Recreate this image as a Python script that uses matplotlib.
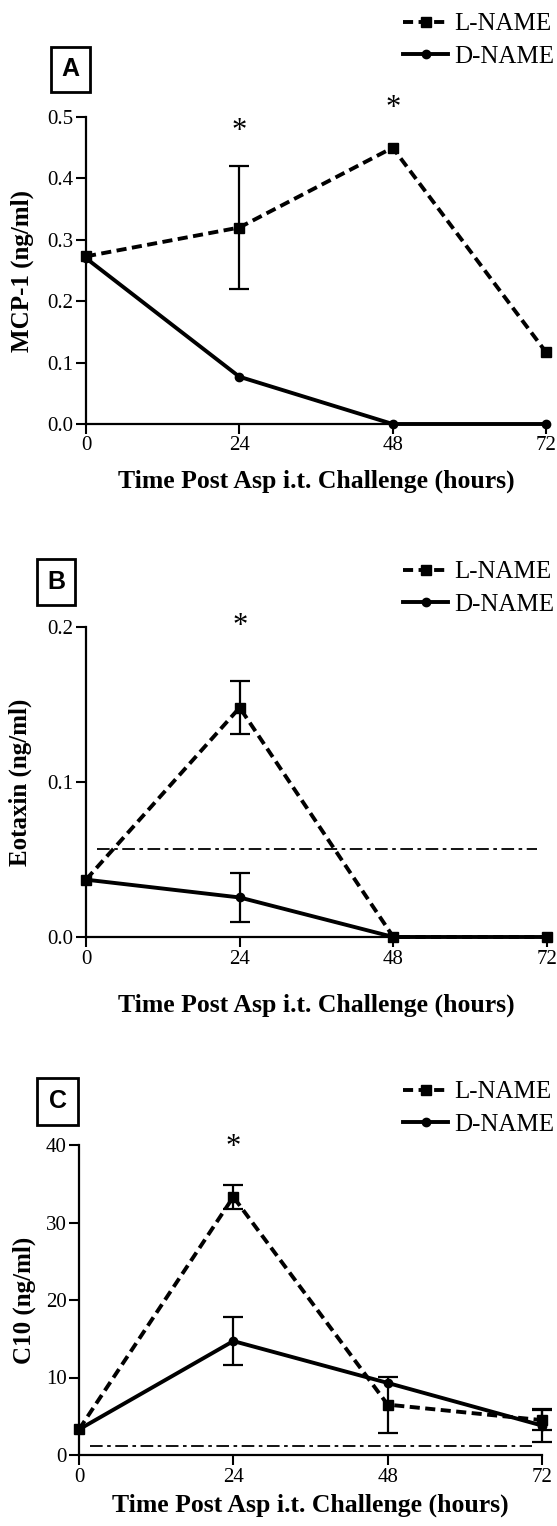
import matplotlib.pyplot as plt
import matplotlib.patches as patches
import numpy as np

plt.rcParams['font.family'] = 'Liberation Serif'

W, H = 557, 1526

hours = [0, 24, 48, 72]

# panel A - MCP-1
mcp_l = [0.273, 0.32, 0.45, 0.117]
mcp_l_err = [0, 0.10, 0, 0]
mcp_d = [0.27, 0.077, 0.0, 0.0]
mcp_d_err = [0, 0, 0, 0]

# panel B - eotaxin
eot_l = [0.037, 0.148, 0.0, 0.0]
eot_l_err = [0, 0.017, 0, 0]
eot_d = [0.037, 0.0255, 0.0, 0.0]
eot_d_err = [0, 0.0155, 0, 0]
eot_limit = 0.057

# panel C - C10
c10_l = [3.3, 33.3, 6.5, 4.5]
c10_l_err = [0, 1.5, 3.6, 1.3]
c10_d = [3.3, 14.7, 9.3, 3.8]
c10_d_err = [0, 3.1, 0, 2.1]
c10_limit = 1.1

limit_span = [1.7, 70.5]

panels = [
    dict(letter='A', ylabel='MCP-1 (ng/ml)', l=mcp_l, le=mcp_l_err, d=mcp_d, de=mcp_d_err,
         limit=None, yticks=[0, 0.1, 0.2, 0.3, 0.4, 0.5], fmt='%.1f',
         stars=[(24, 0.485), (48, 0.523)],
         box=(51, 47, 39, 45), ax_px=(86, 546, 117, 424), leg_top=13, ylab_x=23, xlab_top=470),
    dict(letter='B', ylabel='Eotaxin (ng/ml)', l=eot_l, le=eot_l_err, d=eot_d, de=eot_d_err,
         limit=eot_limit, yticks=[0, 0.1, 0.2], fmt='%.1f',
         stars=[(24, 0.204)],
         box=(37, 559, 38, 46), ax_px=(86, 547, 627, 937), leg_top=561, ylab_x=21, xlab_top=994),
    dict(letter='C', ylabel='C10 (ng/ml)', l=c10_l, le=c10_l_err, d=c10_d, de=c10_d_err,
         limit=c10_limit, yticks=[0, 10, 20, 30, 40], fmt='%d',
         stars=[(24, 40.4)],
         box=(37, 1078, 41, 47), ax_px=(79, 542, 1145, 1455), leg_top=1081, ylab_x=25, xlab_top=1494),
]

fig = plt.figure(figsize=(W / 100, H / 100), dpi=100)

for p in panels:
    left, right, top, bottom = p['ax_px']
    ax = fig.add_axes([left / W, 1 - bottom / H, (right - left) / W, (bottom - top) / H])

    ln_l, = ax.plot(hours, p['l'], color='black', lw=2.8, dashes=(2.6, 1.4),
                    marker='s', ms=7.5, clip_on=False, zorder=4, label='L-NAME')
    ln_d, = ax.plot(hours, p['d'], color='black', lw=2.8, marker='o', ms=6,
                    clip_on=False, zorder=3, label='D-NAME')

    # error bars only where there is one
    for vals, errs in [(p['l'], p['le']), (p['d'], p['de'])]:
        idx = [i for i, e in enumerate(errs) if e > 0]
        if idx:
            ax.errorbar([hours[i] for i in idx], [vals[i] for i in idx],
                        yerr=[errs[i] for i in idx], fmt='none', ecolor='black',
                        elinewidth=1.6, capsize=7.5, capthick=1.6, clip_on=False, zorder=5)

    if p['limit'] is not None:
        ax.hlines(p['limit'], limit_span[0], limit_span[1], colors='black', lw=1.3,
                  linestyles=[(0, (7, 2.5, 2, 2.5))], zorder=2)

    # asterisk glyph sits high in its box, nudge it down a bit
    for sx, sy in p['stars']:
        ax.annotate('*', (sx, sy), xytext=(0, -4), textcoords='offset points',
                    ha='center', va='center', fontsize=22, annotation_clip=False)

    ax.set_xlim(0, 72)
    ax.set_ylim(p['yticks'][0], p['yticks'][-1])
    ax.set_xticks(hours)
    ax.set_yticks(p['yticks'])
    ax.yaxis.set_major_formatter(plt.FormatStrFormatter(p['fmt']))
    ax.spines[['top', 'right']].set_visible(False)
    for s in ['left', 'bottom']:
        ax.spines[s].set_linewidth(1.6)
    ax.tick_params(direction='out', length=7, width=1.5, labelsize=15, pad=2)

    ax.set_ylabel(p['ylabel'], fontsize=18, fontweight='bold')
    # label anchor is its right edge, so shift by half the text height
    ax.yaxis.set_label_coords((p['ylab_x'] + 11 - left) / (right - left), 0.5)
    ax.set_xlabel('Time Post Asp i.t. Challenge (hours)', fontsize=18.5, fontweight='bold')
    ax.xaxis.set_label_coords(0.5, (bottom - p['xlab_top']) / (bottom - top))

    fig.legend(handles=[ln_l, ln_d], loc='upper left', frameon=False,
               bbox_to_anchor=(403 / W, 1 - p['leg_top'] / H), borderpad=0,
               borderaxespad=0, fontsize=18, handlelength=1.8, handletextpad=0.25,
               labelspacing=0.4)

    bx, by, bw, bh = p['box']
    fig.patches.append(patches.Rectangle((bx / W, 1 - (by + bh) / H), bw / W, bh / H,
                                         transform=fig.transFigure, fill=False,
                                         ec='black', lw=2))
    fig.text((bx + bw / 2) / W, 1 - (by + bh / 2) / H, p['letter'], ha='center', va='center',
             fontsize=18, fontweight='bold', family='Liberation Sans')

fig.savefig('out.png', dpi=100)
